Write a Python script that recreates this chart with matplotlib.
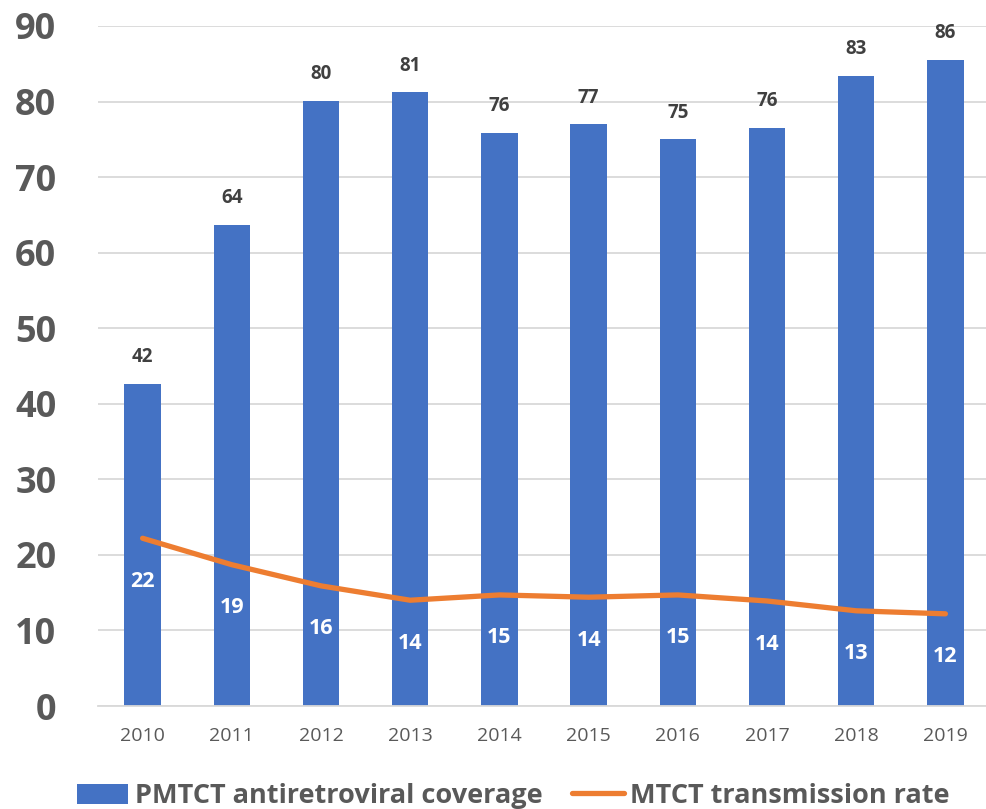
import matplotlib
matplotlib.use("Agg")
import matplotlib.pyplot as plt
import numpy as np

plt.rcParams["font.family"] = ["Open Sans", "DejaVu Sans"]

# данные
years = ["2010", "2011", "2012", "2013", "2014", "2015", "2016", "2017", "2018", "2019"]
coverage = [42.6, 63.7, 80.1, 81.2, 75.9, 77.0, 75.0, 76.5, 83.4, 85.5]
coverage_labels = ["42", "64", "80", "81", "76", "77", "75", "76", "83", "86"]
mtct_rate = [22.2, 18.7, 15.9, 14.0, 14.7, 14.4, 14.7, 13.9, 12.6, 12.2]
mtct_labels = ["22", "19", "16", "14", "15", "14", "15", "14", "13", "12"]

blue = "#4472C4"
orange = "#ED7D31"
grey_text = "#595959"

fig = plt.figure(figsize=(9.87, 8.09), dpi=100)
ax = fig.add_axes([98 / 987, 103 / 809, 892 / 987, 680 / 809])

x = np.arange(len(years))
bars = ax.bar(x, coverage, width=0.41, color=blue, zorder=2,
              label="PMTCT antiretroviral coverage")
line, = ax.plot(x, mtct_rate, color=orange, linewidth=3.8, zorder=3,
                solid_capstyle="round", label="MTCT transmission rate")

# подписи над столбцами
for xi, v, lab in zip(x, coverage, coverage_labels):
    ax.annotate(lab, (xi, v), xytext=(0, 12), textcoords="offset points",
                ha="center", va="bottom", fontsize=13.5, fontweight="bold",
                color="#404040")

# подписи под линией
for xi, v, lab in zip(x, mtct_rate, mtct_labels):
    ax.annotate(lab, (xi, v), xytext=(0, -31), textcoords="offset points",
                ha="center", va="center", fontsize=15.5, fontweight="bold",
                color="white", zorder=4)

ax.set_xlim(-0.5, 9.5)
ax.set_ylim(0, 90)
ax.set_yticks(range(0, 91, 10))
ax.set_xticks(x)
ax.set_xticklabels(years)
ax.tick_params(axis="y", length=0, pad=30, labelsize=26, labelcolor=grey_text)
ax.tick_params(axis="x", length=0, pad=15, labelsize=14, labelcolor=grey_text)
for t in ax.get_yticklabels():
    t.set_fontweight("bold")

ax.grid(axis="y", color="#D9D9D9", linewidth=1.3, zorder=0)
ax.set_axisbelow(True)
for s in ["top", "right", "left"]:
    ax.spines[s].set_visible(False)
ax.spines["bottom"].set_color("#D9D9D9")
ax.spines["bottom"].set_linewidth(1.3)

leg = fig.legend(handles=[bars, line], loc="center", bbox_to_anchor=(0.52, 0.016),
                 ncol=2, frameon=False, handlelength=1.9, handleheight=0.75,
                 columnspacing=1.1, handletextpad=0.25,
                 prop={"size": 19.5, "weight": "bold"})
for t in leg.get_texts():
    t.set_color(grey_text)

plt.savefig("out.png", dpi=100)
plt.close()
